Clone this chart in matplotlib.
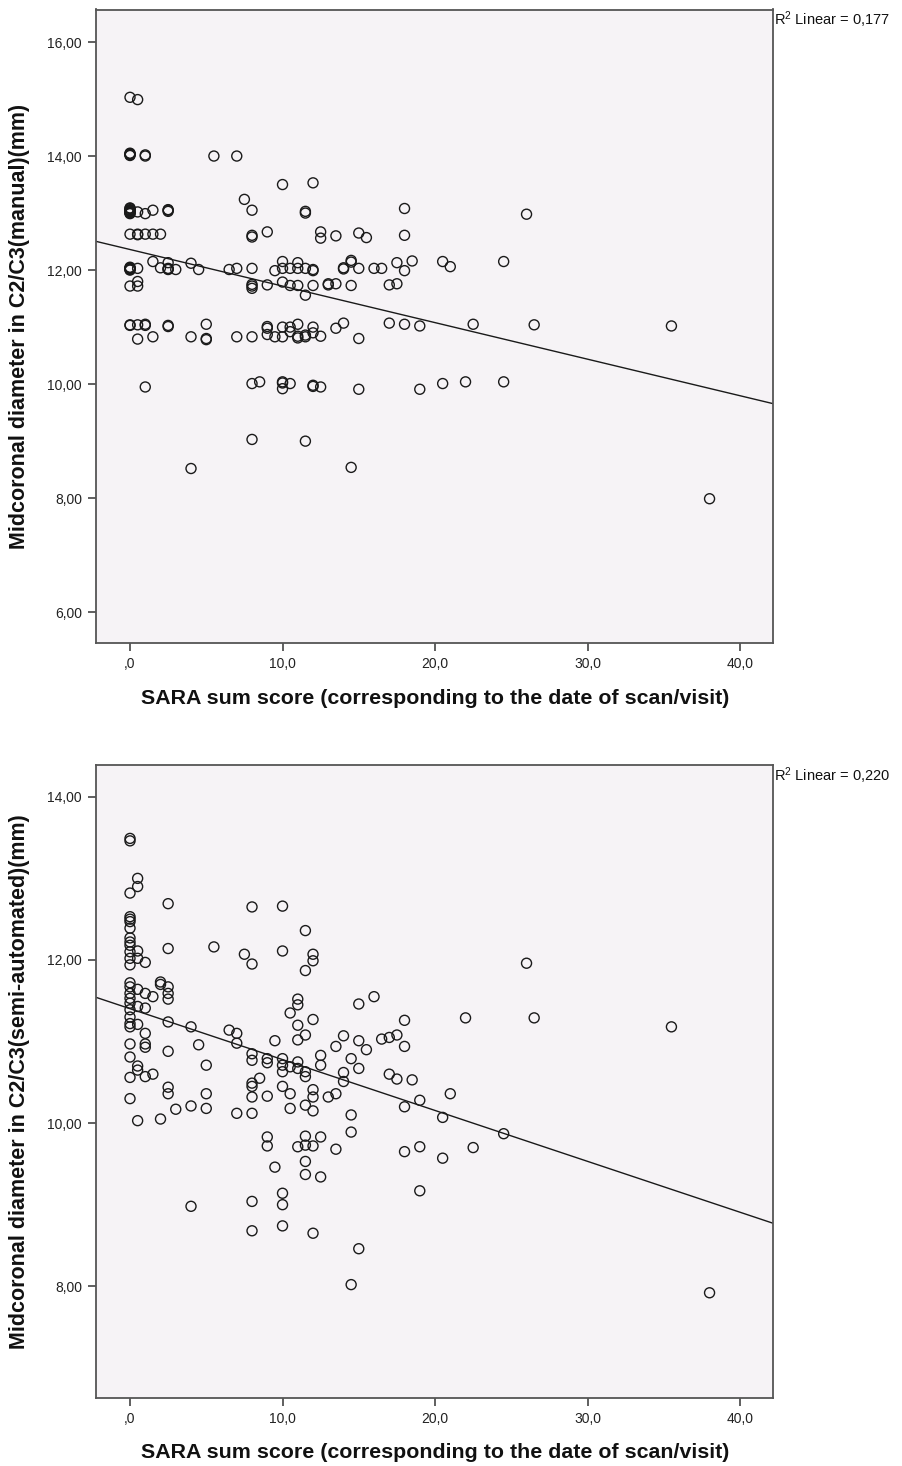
import numpy as np
import matplotlib
matplotlib.use('Agg')
import matplotlib.pyplot as plt
from matplotlib.ticker import FuncFormatter

plt.rcParams['font.family'] = ['Liberation Sans', 'DejaVu Sans']
plt.rcParams['mathtext.default'] = 'regular'

# SARA score / manual diameter (top panel)
sara_manual = [0] * 26 + \
              [0.5, 0.5, 0.5, 0.5, 0.5, 0.5, 0.5, 0.5, 0.5,
               1, 1, 1, 1, 1, 1, 1,
               1.5, 1.5, 1.5, 1.5,
               2, 2,
               2.5, 2.5, 2.5, 2.5, 2.5, 2.5, 2.5, 2.5, 2.5,
               3, 4, 4, 4, 4.5, 5, 5, 5, 5.5, 6.5, 7, 7, 7, 7.5,
               8, 8, 8, 8, 8, 8, 8, 8, 8, 8,
               8.5, 9, 9, 9, 9, 9, 9.5, 9.5,
               10, 10, 10, 10, 10, 10, 10, 10, 10,
               10.5, 10.5, 10.5, 10.5, 10.5,
               11, 11, 11, 11, 11, 11,
               11.5, 11.5, 11.5, 11.5, 11.5, 11.5, 11.5,
               12, 12, 12, 12, 12, 12, 12, 12,
               12.5, 12.5, 12.5, 12.5,
               13, 13, 13.5, 13.5, 13.5, 14, 14, 14,
               14.5, 14.5, 14.5, 14.5, 15, 15, 15, 15,
               15.5, 16, 16.5, 17, 17, 17.5, 17.5,
               18, 18, 18, 18, 18.5, 19, 19, 20.5, 20.5, 21, 22, 22.5,
               24.5, 24.5, 26, 26.5, 35.5, 38]
diam_manual = [15.03, 14.05, 14.04, 14.03, 14.02, 14.01, 13.09, 13.08, 13.06, 13.05,
               13.04, 13.03, 13.02, 13.01, 13.0, 12.99, 12.63, 12.05, 12.04, 12.03,
               12.02, 12.01, 12.0, 11.72, 11.04, 11.03,
               14.99, 13.02, 12.63, 12.62, 12.03, 11.8, 11.72, 11.04, 10.79,
               14.02, 14.0, 12.99, 12.63, 11.05, 11.03, 9.95,
               13.05, 12.63, 12.15, 10.83,
               12.63, 12.04,
               13.06, 13.05, 13.03, 12.13, 12.03, 12.02, 12.01, 11.03, 11.01,
               12.01, 12.12, 10.83, 8.52, 12.01, 11.05, 10.8, 10.78, 14.0, 12.01, 14.0, 12.03, 10.83, 13.24,
               13.05, 12.61, 12.58, 12.03, 11.75, 11.72, 11.68, 10.83, 10.01, 9.03,
               10.04, 12.67, 11.74, 11.01, 10.98, 10.87, 11.99, 10.83,
               13.5, 12.15, 12.03, 11.79, 11.0, 10.83, 10.04, 10.02, 9.92,
               12.03, 11.73, 11.0, 10.92, 10.01,
               12.13, 12.03, 11.73, 11.05, 10.84, 10.81,
               13.03, 13.0, 12.03, 11.56, 10.86, 10.83, 9.0,
               13.53, 12.01, 11.99, 11.73, 11.0, 10.9, 9.98, 9.96,
               12.67, 12.56, 10.84, 9.95,
               11.76, 11.74, 12.6, 11.76, 10.98, 12.04, 12.02, 11.07,
               12.17, 12.14, 11.73, 8.54, 12.65, 12.03, 10.8, 9.91,
               12.57, 12.03, 12.03, 11.74, 11.07, 12.13, 11.76,
               13.08, 12.61, 11.99, 11.05, 12.16, 11.02, 9.91, 12.15, 10.01, 12.06, 10.04, 11.05,
               12.15, 10.04, 12.98, 11.04, 11.02, 7.99]

# SARA score / semi-automated diameter (bottom panel)
sara_semi = [0] * 26 + [0.5] * 10 + [1] * 7 + [1.5] * 2 + [2] * 3 + [2.5] * 9 + \
            [3, 4, 4, 4, 4.5, 5, 5, 5, 5.5, 6.5, 7, 7, 7, 7.5] + [8] * 10 + [8.5] + \
            [9] * 5 + [9.5] * 2 + [10] * 9 + [10.5] * 4 + [11] * 7 + [11.5] * 10 + \
            [12] * 8 + [12.5] * 4 + [13] + [13.5] * 3 + [14] * 3 + [14.5] * 4 + [15] * 4 + \
            [15.5, 16, 16.5, 17, 17, 17.5, 17.5, 18, 18, 18, 18, 18.5, 19, 19, 19,
             20.5, 20.5, 21, 22, 22.5, 24.5, 26, 26.5, 35.5, 38]
diam_semi = [13.49, 13.46, 12.82, 12.53, 12.5, 12.47, 12.39, 12.27, 12.22, 12.18,
             12.1, 12.02, 11.94, 11.72, 11.67, 11.59, 11.53, 11.47, 11.39, 11.3,
             11.22, 11.18, 10.97, 10.81, 10.56, 10.3,
             13.0, 12.9, 12.11, 12.02, 11.64, 11.43, 11.21, 10.7, 10.65, 10.03,
             11.97, 11.59, 11.41, 11.1, 10.97, 10.93, 10.57,
             11.55, 10.6,
             11.73, 11.7, 10.05,
             12.69, 12.14, 11.67, 11.59, 11.52, 11.24, 10.88, 10.44, 10.36,
             10.17, 11.18, 10.21, 8.98, 10.96, 10.71, 10.36, 10.18, 12.16, 11.14,
             11.1, 10.98, 10.12, 12.07,
             12.65, 11.95, 10.85, 10.77, 10.49, 10.45, 10.32, 10.12, 9.04, 8.68,
             10.55,
             10.79, 10.74, 10.33, 9.83, 9.72,
             11.01, 9.46,
             12.66, 12.11, 10.79, 10.71, 10.63, 10.45, 9.14, 9.0, 8.74,
             11.35, 10.69, 10.36, 10.18,
             11.52, 11.45, 11.2, 11.02, 10.75, 10.67, 9.71,
             12.36, 11.87, 11.08, 10.63, 10.57, 10.22, 9.84, 9.73, 9.53, 9.37,
             12.07, 11.99, 11.27, 10.41, 10.32, 10.15, 9.72, 8.65,
             10.83, 10.71, 9.83, 9.34,
             10.32,
             10.94, 10.36, 9.68,
             11.07, 10.62, 10.51,
             10.79, 10.1, 9.89, 8.02,
             11.46, 11.01, 10.67, 8.46,
             10.9, 11.55, 11.03, 11.05, 10.6, 11.08, 10.54, 11.26, 10.94, 10.2, 9.65,
             10.53, 10.28, 9.71, 9.17, 10.07, 9.57, 10.36, 11.29, 9.70, 9.87, 11.96,
             11.29, 11.18, 7.92]

x_ticks = [0, 10, 20, 30, 40]
y_ticks_manual = [6, 8, 10, 12, 14, 16]
y_ticks_semi = [8, 10, 12, 14]
r2_manual = '0,177'
r2_semi = '0,220'


def spss_x(v, pos):
    s = f'{v:.1f}'.replace('.', ',')
    return s[1:] if s.startswith('0') else s


def spss_y(v, pos):
    return f'{v:.2f}'.replace('.', ',')


W, H = 903, 1466
fig = plt.figure(figsize=(W / 100, H / 100), dpi=100)

panels = [
    (sara_manual, diam_manual, y_ticks_manual, (5.46, 16.57), 9.5, 643,
     'Midcoronal diameter in C2/C3(manual)(mm)', r2_manual, 698),
    (sara_semi, diam_semi, y_ticks_semi, (6.63, 14.39), 765, 1398,
     'Midcoronal diameter in C2/C3(semi-automated)(mm)', r2_semi, 1453),
]

for xs, ys, yt, ylim, top, bot, ylab, r2, xlab_y in panels:
    ax = fig.add_axes([96 / W, (H - bot) / H, 677 / W, (bot - top) / H])
    ax.set_facecolor('#f6f3f6')
    xs = np.array(xs, dtype=float)
    ys = np.array(ys, dtype=float)
    ax.scatter(xs, ys, s=52, facecolors='none', edgecolors='#1a1a1a', linewidths=1.0, zorder=3)
    # linear fit line
    b, a = np.polyfit(xs, ys, 1)
    xl = np.array([-2.23, 42.16])
    ax.plot(xl, a + b * xl, color='#1a1a1a', lw=1.0, zorder=2)
    ax.set_xlim(-2.23, 42.16)
    ax.set_ylim(*ylim)
    ax.set_xticks(x_ticks)
    ax.set_yticks(yt)
    ax.xaxis.set_major_formatter(FuncFormatter(spss_x))
    ax.yaxis.set_major_formatter(FuncFormatter(spss_y))
    ax.tick_params(direction='out', length=6, width=1.2, color='#444444',
                   labelsize=10, labelcolor='#222222', pad=4)
    for sp in ax.spines.values():
        sp.set_color('#555555')
        sp.set_linewidth(1.3)
    ax.text(1.002, 1.0, 'R$^2$ Linear = ' + r2, transform=ax.transAxes,
            ha='left', va='top', fontsize=10.5, color='#111111')
    fig.text(20 / W, 1 - (top + bot) / 2 / H, ylab, rotation=90, ha='center', va='center',
             fontsize=15.5, fontweight='bold', color='#111111')
    fig.text(435 / W, 1 - xlab_y / H, 'SARA sum score (corresponding to the date of scan/visit)',
             ha='center', va='center', fontsize=15.4, fontweight='bold', color='#111111')

fig.savefig('out.png', dpi=100, facecolor='white')
